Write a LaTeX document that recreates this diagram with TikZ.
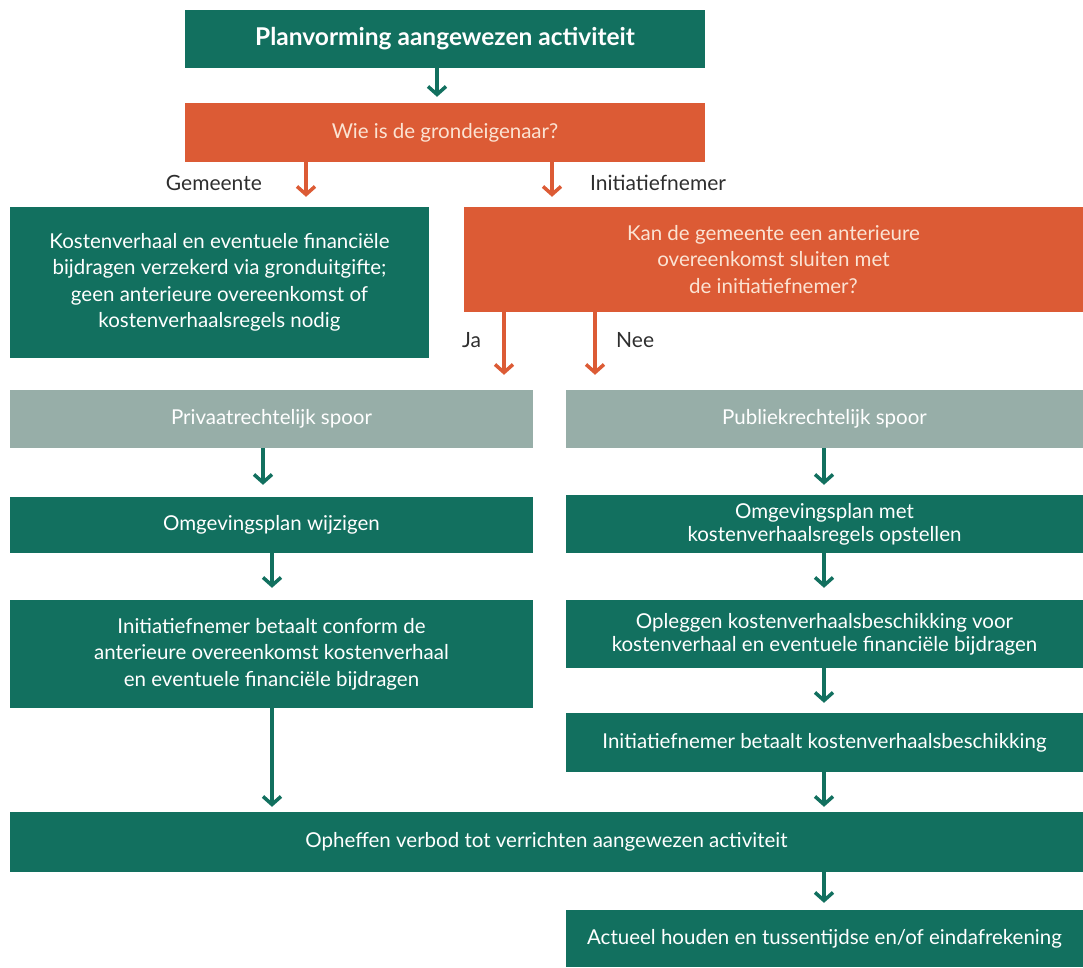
\documentclass[tikz,border=0pt]{standalone}
\usepackage{fontspec}
\setmainfont{Lato}
\usetikzlibrary{arrows.meta}
\definecolor{tealc}{HTML}{12705F}
\definecolor{orangec}{HTML}{DC5B35}
\definecolor{greyc}{HTML}{97AEA8}
\definecolor{peach}{HTML}{FBE3D3}
\definecolor{labelc}{HTML}{2E2E2E}
\begin{document}
\begin{tikzpicture}[x=1pt,y=-1pt,
  box/.style={rectangle, inner sep=0pt, align=center, font=\fontsize{20.5}{26.5}\selectfont},
  tightbox/.style={font=\fontsize{20.5}{23}\selectfont},
  tbox/.style={box, fill=tealc, text=white},
  obox/.style={box, fill=orangec, text=peach},
  gbox/.style={box, fill=greyc, text=white},
  lbl/.style={inner sep=0pt, text=labelc, font=\fontsize{21}{24}\selectfont},
  tarr/.style={draw=tealc, line width=3.5pt, -{Straight Barb[length=8pt,width=18pt]}},
  oarr/.style={draw=orangec, line width=3.5pt, -{Straight Barb[length=8pt,width=18pt]}}
]
\useasboundingbox (0,0) rectangle (1083,967);

\node[tbox, minimum width=520pt, minimum height=58pt, font=\fontsize{24.5}{27}\selectfont\bfseries] (top) at (445,39) {Planvorming aangewezen activiteit};
\node[obox, minimum width=520pt, minimum height=59pt] (q1) at (445,132.5) {Wie is de grondeigenaar?};
\node[tbox, minimum width=419pt, minimum height=151pt] (gem) at (219.5,282.5) {Kostenverhaal en eventuele financiële\\bijdragen verzekerd via gronduitgifte;\\geen anterieure overeenkomst of\\kostenverhaalsregels nodig};
\node[obox, minimum width=619pt, minimum height=105pt] (q2) at (773.5,259.5) {Kan de gemeente een anterieure\\overeenkomst sluiten met\\de initiatiefnemer?};
\node[gbox, minimum width=523pt, minimum height=58pt] (priv) at (271.5,419) {Privaatrechtelijk spoor};
\node[gbox, minimum width=517pt, minimum height=58pt] (pub) at (824.5,419) {Publiekrechtelijk spoor};
\node[tbox, minimum width=523pt, minimum height=56pt] (om1) at (271.5,525) {Omgevingsplan wijzigen};
\node[tbox, tightbox, minimum width=517pt, minimum height=58pt] (om2) at (824.5,524) {Omgevingsplan met\\kostenverhaalsregels opstellen};
\node[tbox, minimum width=523pt, minimum height=108pt] (ini1) at (271.5,654) {Initiatiefnemer betaalt conform de\\anterieure overeenkomst kostenverhaal\\en eventuele financiële bijdragen};
\node[tbox, tightbox, minimum width=517pt, minimum height=68pt] (opl) at (824.5,634) {Opleggen kostenverhaalsbeschikking voor\\kostenverhaal en eventuele financiële bijdragen};
\node[tbox, minimum width=517pt, minimum height=59pt] (ini2) at (824.5,742.5) {Initiatiefnemer betaalt kostenverhaalsbeschikking};
\node[tbox, minimum width=1073pt, minimum height=60pt] (oph) at (546.5,842) {Opheffen verbod tot verrichten aangewezen activiteit};
\node[tbox, minimum width=517pt, minimum height=57pt] (act) at (824.5,938.5) {Actueel houden en tussentijdse en/of eindafrekening};

\node[lbl, anchor=east] (lgem) at (262,183) {Gemeente};
\node[lbl, anchor=west] (lini) at (590,183) {Initiatiefnemer};
\node[lbl, anchor=west] (lja) at (462,340) {Ja};
\node[lbl, anchor=west] (lnee) at (616,340) {Nee};

\coordinate (xa) at (437,0);
\coordinate (xg) at (306,0);
\coordinate (xi) at (552,0);
\coordinate (xj) at (504,0);
\coordinate (xn) at (595,0);
\coordinate (xp) at (263,0);
\coordinate (xo) at (272,0);
\coordinate (xr) at (824,0);

\draw[tarr, shorten >=6pt] (top.south -| xa) -- (q1.north -| xa);
\draw[oarr, shorten >=10pt] (q1.south -| xg) -- (gem.north -| xg);
\draw[oarr, shorten >=10pt] (q1.south -| xi) -- (q2.north -| xi);
\draw[oarr, shorten >=15pt] (q2.south -| xj) -- (priv.north -| xj);
\draw[oarr, shorten >=15pt] (q2.south -| xn) -- (pub.north -| xn);
\draw[tarr, shorten >=12pt] (priv.south -| xp) -- (om1.north -| xp);
\draw[tarr, shorten >=12pt] (om1.south -| xo) -- (ini1.north -| xo);
\draw[tarr, shorten >=10pt] (pub.south -| xr) -- (om2.north -| xr);
\draw[tarr, shorten >=12pt] (om2.south -| xr) -- (opl.north -| xr);
\draw[tarr, shorten >=10pt] (opl.south -| xr) -- (ini2.north -| xr);
\draw[tarr, shorten >=5pt] (ini1.south -| xo) -- (oph.north -| xo);
\draw[tarr, shorten >=5pt] (ini2.south -| xr) -- (oph.north -| xr);
\draw[tarr, shorten >=7pt] (oph.south -| xr) -- (act.north -| xr);
\end{tikzpicture}
\end{document}
